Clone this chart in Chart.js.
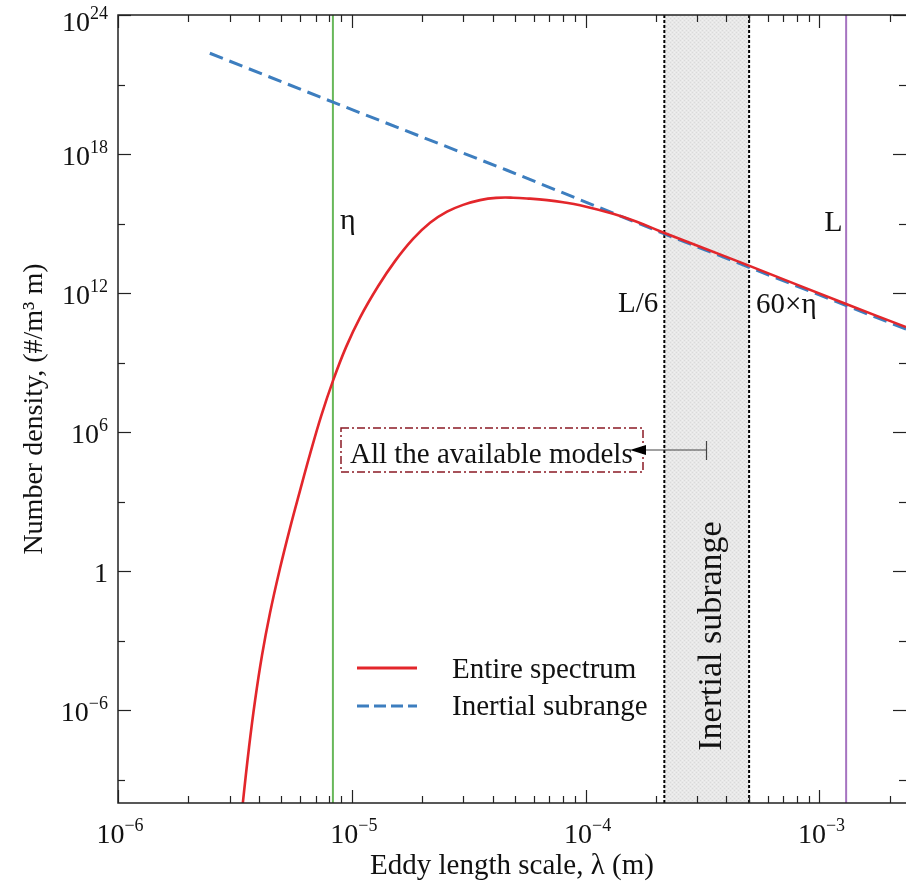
<!DOCTYPE html>
<html><head><meta charset="utf-8">
<script src="https://cdn.jsdelivr.net/npm/chart.js@4.4.0/dist/chart.umd.min.js"></script>
<style>html,body{margin:0;padding:0;background:#fff;overflow:hidden}canvas{display:block}</style>
</head><body>
<canvas id="c" width="906" height="888"></canvas>
<script>
// ---- data ----
const lambdaEntire = [3.26e-6, 3.42e-6, 3.634e-6, 3.855e-6, 4.128e-6, 4.467e-6, 4.93e-6, 5.44e-6, 6.004e-6, 6.625e-6, 7.38e-6, 8.31e-6, 9.445e-6, 1.084e-5, 1.295e-5, 1.53e-5, 1.827e-5, 2.16e-5, 2.554e-5, 2.99e-5, 3.534e-5, 4.136e-5, 4.892e-5, 5.784e-5, 6.838e-5, 8.003e-5, 9.46e-5, 1.31e-4, 1.643e-4, 2.08e-4, 3.085e-4, 5.05e-4, 1.3e-3, 2.346e-3];
const densityEntire = [7.2e-13, 1.03e-10, 2.55e-8, 2.58e-6, 2.31e-4, 0.0157, 1.34, 72.6, 3.0e3, 1.12e5, 4.66e6, 1.67e8, 4.67e9, 8.8e10, 1.97e12, 2.4e13, 2.18e14, 1.09e15, 3.27e15, 6.43e15, 1.03e16, 1.29e16, 1.31e16, 1.19e16, 1.03e16, 8.4e15, 6.24e15, 2.66e15, 1.24e15, 4.7e14, 1.01e14, 1.46e13, 3.37e11, 3.43e10];
const lambdaInertial = [2.47e-6, 8.31e-6, 4.61e-5, 2.08e-4, 2.346e-3];
const densityInertial = [2.24e22, 1.73e20, 2.0e17, 4.27e14, 2.8e10];
const etaLambda = 8.3e-6;      // Kolmogorov scale η
const bigL = 1.3e-3;           // integral scale L
const inertialLow = 2.17e-4;   // L/6
const inertialHigh = 5.0e-4;   // 60×η
const xMin = 1e-6, xMax = 2.344e-3, yMin = 1e-10, yMax = 1e24;
const xTickValues = [1e-6, 1e-5, 1e-4, 1e-3];
const xTickLabels = ['10^\u22126', '10^\u22125', '10^\u22124', '10^\u22123'];
const yTickValues = [1e24, 1e18, 1e12, 1e6, 1, 1e-6];
const yTickLabels = ['10^24', '10^18', '10^12', '10^6', '1', '10^\u22126'];
const yMinorValues = [1e21, 1e15, 1e9, 1e3, 1e-3, 1e-9];
const seriesNames = ['Entire spectrum', 'Inertial subrange'];

const SERIF = '"Liberation Serif", "DejaVu Serif", serif';
const RED = '#e3262b', BLUE = '#3d7ebf';

function makePattern(ctx) {
  const p = document.createElement('canvas'); p.width = 4; p.height = 4;
  const c = p.getContext('2d');
  c.fillStyle = '#e8e8e8'; c.fillRect(0, 0, 4, 4);
  c.fillStyle = '#dadada';
  c.fillRect(0, 0, 1, 1); c.fillRect(2, 2, 1, 1);
  c.fillStyle = '#f0f0f0';
  c.fillRect(2, 0, 1, 1); c.fillRect(0, 2, 1, 1);
  return ctx.createPattern(p, 'repeat');
}

function drawPow(ctx, label, x, y, align) {
  const parts = label.split('^');
  ctx.font = '28px ' + SERIF;
  const wb = ctx.measureText(parts[0]).width;
  let we = 0;
  if (parts[1]) { ctx.font = '18px ' + SERIF; we = ctx.measureText(parts[1]).width; }
  const total = wb + we;
  let start = align === 'center' ? x - total / 2 : x - total;
  ctx.textAlign = 'left'; ctx.textBaseline = 'alphabetic';
  ctx.font = '28px ' + SERIF;
  ctx.fillText(parts[0], start, y);
  if (parts[1]) { ctx.font = '18px ' + SERIF; ctx.fillText(parts[1], start + wb, y - 12); }
}

const decor = {
  id: 'decor',
  beforeDatasetsDraw(chart) {
    const {ctx, chartArea: a, scales: {x}} = chart;
    ctx.save();
    const xl = x.getPixelForValue(inertialLow), xh = x.getPixelForValue(inertialHigh);
    ctx.fillStyle = makePattern(ctx);
    ctx.fillRect(xl, a.top, xh - xl, a.bottom - a.top);
    ctx.strokeStyle = '#000'; ctx.lineWidth = 2; ctx.setLineDash([3, 2]);
    [xl, xh].forEach(px => { ctx.beginPath(); ctx.moveTo(px, a.top); ctx.lineTo(px, a.bottom); ctx.stroke(); });
    ctx.setLineDash([]);
    ctx.lineWidth = 2;
    ctx.strokeStyle = '#68b85a';
    let px = x.getPixelForValue(etaLambda);
    ctx.beginPath(); ctx.moveTo(px, a.top); ctx.lineTo(px, a.bottom); ctx.stroke();
    ctx.strokeStyle = '#a673c0';
    px = x.getPixelForValue(bigL);
    ctx.beginPath(); ctx.moveTo(px, a.top); ctx.lineTo(px, a.bottom); ctx.stroke();
    ctx.restore();
  },
  afterDatasetsDraw(chart) {
    const {ctx, chartArea: a, scales: {x, y}} = chart;
    ctx.save();
    // frame (right edge falls outside the picture)
    ctx.strokeStyle = '#222'; ctx.lineWidth = 1.5;
    ctx.beginPath();
    ctx.moveTo(a.right + 2, a.top); ctx.lineTo(a.left, a.top); ctx.lineTo(a.left, a.bottom); ctx.lineTo(a.right + 2, a.bottom);
    ctx.stroke();
    // x ticks (bottom and top), inward
    ctx.lineWidth = 1.2;
    for (let d = -6; d <= -3; d++) {
      for (let k = 1; k <= 9; k++) {
        const v = k * Math.pow(10, d);
        if (v < xMin || v > xMax) continue;
        const px = Math.round(x.getPixelForValue(v)) + 0.5;
        const len = k === 1 ? 13 : 7;
        ctx.beginPath(); ctx.moveTo(px, a.bottom); ctx.lineTo(px, a.bottom - len); ctx.stroke();
        ctx.beginPath(); ctx.moveTo(px, a.top); ctx.lineTo(px, a.top + len); ctx.stroke();
      }
    }
    // y ticks (left and right), inward
    const yt = (v, len) => {
      const py = Math.round(y.getPixelForValue(v)) + 0.5;
      ctx.beginPath(); ctx.moveTo(a.left, py); ctx.lineTo(a.left + len, py); ctx.stroke();
      ctx.beginPath(); ctx.moveTo(a.right, py); ctx.lineTo(a.right - len, py); ctx.stroke();
    };
    yTickValues.forEach(v => yt(v, 13));
    yMinorValues.forEach(v => yt(v, 7));
    // tick labels
    ctx.fillStyle = '#111';
    xTickValues.forEach((v, i) => drawPow(ctx, xTickLabels[i], x.getPixelForValue(v) + 2, a.bottom + 40, 'center'));
    yTickValues.forEach((v, i) => {
      const py = y.getPixelForValue(v);
      drawPow(ctx, yTickLabels[i], a.left - 10, Math.max(py + 11, a.top + 16), 'right');
    });
    // annotations
    ctx.fillStyle = '#111'; ctx.textBaseline = 'alphabetic'; ctx.textAlign = 'left';
    ctx.font = '30px ' + SERIF;
    ctx.fillText('\u03b7', x.getPixelForValue(etaLambda) + 7, 229);
    ctx.fillText('L', x.getPixelForValue(bigL) - 22, 231);
    ctx.font = '29px ' + SERIF;
    ctx.textAlign = 'right';
    ctx.fillText('L/6', x.getPixelForValue(inertialLow) - 6, 312);
    ctx.textAlign = 'left';
    ctx.fillText('60\u00d7\u03b7', x.getPixelForValue(inertialHigh) + 7, 313);
    // rotated band label
    ctx.save();
    ctx.translate((x.getPixelForValue(inertialLow) + x.getPixelForValue(inertialHigh)) / 2 + 5, 636);
    ctx.rotate(-Math.PI / 2);
    ctx.font = '34px ' + SERIF; ctx.textAlign = 'center'; ctx.textBaseline = 'middle';
    ctx.fillText('Inertial subrange', 0, 0);
    ctx.restore();
    // models box
    ctx.strokeStyle = '#8a1a24'; ctx.lineWidth = 1.5; ctx.setLineDash([8, 3, 2, 3]);
    ctx.strokeRect(341, 428, 302, 44);
    ctx.setLineDash([]);
    ctx.font = '29px ' + SERIF; ctx.textAlign = 'left'; ctx.textBaseline = 'alphabetic';
    ctx.fillText('All the available models', 350, 463);
    // arrow
    ctx.strokeStyle = '#444'; ctx.lineWidth = 1.2;
    ctx.beginPath(); ctx.moveTo(706, 450); ctx.lineTo(644, 450); ctx.stroke();
    ctx.beginPath(); ctx.moveTo(706.5, 441); ctx.lineTo(706.5, 460); ctx.stroke();
    ctx.fillStyle = '#000';
    ctx.beginPath(); ctx.moveTo(630, 450); ctx.lineTo(646, 445); ctx.lineTo(646, 455); ctx.closePath(); ctx.fill();
    // legend
    ctx.lineWidth = 3;
    ctx.strokeStyle = RED;
    ctx.beginPath(); ctx.moveTo(357, 668); ctx.lineTo(417, 668); ctx.stroke();
    ctx.strokeStyle = BLUE; ctx.setLineDash([12, 5]);
    ctx.beginPath(); ctx.moveTo(357, 706); ctx.lineTo(417, 706); ctx.stroke();
    ctx.setLineDash([]);
    ctx.fillStyle = '#111'; ctx.font = '29px ' + SERIF; ctx.textAlign = 'left';
    ctx.fillText(seriesNames[0], 452, 678);
    ctx.fillText(seriesNames[1], 452, 715);
    ctx.restore();
  }
};

new Chart(document.getElementById('c').getContext('2d'), {
  type: 'line',
  data: {
    datasets: [
      { label: seriesNames[0], data: lambdaEntire.map((v, i) => ({x: v, y: densityEntire[i]})),
        borderColor: RED, borderWidth: 2.6, pointRadius: 0, tension: 0.4, fill: false },
      { label: seriesNames[1], data: lambdaInertial.map((v, i) => ({x: v, y: densityInertial[i]})),
        borderColor: BLUE, borderWidth: 3, borderDash: [14, 7], pointRadius: 0, tension: 0, fill: false }
    ]
  },
  options: {
    responsive: false, devicePixelRatio: 1, animation: false,
    layout: { padding: { top: 15, left: 0, right: 0, bottom: 0 } },
    plugins: { legend: { display: false }, tooltip: { enabled: false } },
    scales: {
      x: { type: 'logarithmic', min: xMin, max: xMax,
           grid: { display: false }, border: { display: false }, ticks: { display: false },
           title: { display: true, text: 'Eddy length scale, \u03bb (m)', color: '#111',
                    font: { family: SERIF, size: 29 }, padding: { bottom: 4, top: 0 } },
           afterFit(s) { s.height = 85; } },
      y: { type: 'logarithmic', min: yMin, max: yMax,
           grid: { display: false }, border: { display: false }, ticks: { display: false },
           title: { display: true, text: 'Number density, (#/m\u00b3 m)', color: '#111',
                    font: { family: SERIF, size: 28 }, padding: { top: 18, bottom: 0 } },
           afterFit(s) { s.width = 118; } }
    }
  },
  plugins: [decor]
});
</script>
</body></html>
